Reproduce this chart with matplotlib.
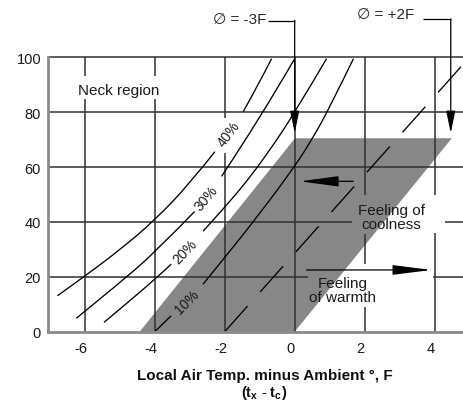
import matplotlib
matplotlib.use("Agg")
import matplotlib.pyplot as plt
from matplotlib.patches import Polygon, FancyArrowPatch, PathPatch
from matplotlib.path import Path
from matplotlib.transforms import ScaledTranslation

plt.rcParams['font.family'] = ['Liberation Sans', 'DejaVu Sans']
plt.rcParams['mathtext.fontset'] = 'custom'
plt.rcParams['mathtext.rm'] = 'Liberation Sans'
plt.rcParams['mathtext.bf'] = 'Liberation Sans:bold'
plt.rcParams['mathtext.it'] = 'Liberation Sans:italic'

# ---- data -------------------------------------------------------------
x_ticks = [-6, -4, -2, 0, 2, 4]
y_ticks = [0, 20, 40, 60, 80, 100]

# percent-dissatisfied curves, each split in a lower and upper piece
c40_lo_x = [-6.78, -6.0, -5.0, -4.0, -3.0, -2.28]
c40_lo_y = [13.1, 20.2, 29.8, 40.6, 54.0, 65.6]
c40_hi_x = [-1.47, -1.06, -0.66]
c40_hi_y = [80.2, 89.5, 99.5]

c30_lo_x = [-6.24, -5.0, -4.0, -2.86]
c30_lo_y = [4.9, 17.8, 28.8, 43.8]
c30_hi_x = [-2.09, -1.0, 0.0]
c30_hi_y = [56.6, 77.5, 99.5]

c20_lo_x = [-5.45, -5.0, -4.0, -3.53]
c20_lo_y = [3.4, 8.2, 19.0, 24.6]
c20_hi_x = [-2.62, -2.0, -1.42, -0.8, 0.0, 0.91]
c20_hi_y = [36.6, 45.3, 54.0, 64.5, 79.7, 99.5]

c10_lo_x = [-4.0, -3.53]
c10_lo_y = [0.0, 5.8]
c10_hi_x = [-2.62, -2.0, -1.0, 0.0, 0.5, 1.0, 1.68]
c10_hi_y = [17.3, 27.0, 43.0, 60.2, 70.2, 81.7, 99.5]

curve_labels = ['40%', '30%', '20%', '10%']
label_x = [-1.87, -2.53, -3.12, -3.08]
label_y = [72.3, 48.8, 29.4, 11.0]
label_rot = [53, 50, 46, 45]

# dashed reference line
dash_x = [-2.0, 4.81]
dash_y = [0.0, 97.4]

# shaded comfort band
band_x = [-4.43, 0.0, 4.49, 0.01]
band_y = [0.0, 0.0, 70.5, 70.5]

# offset markers
phi_labels = ['\u2205 = -3F', '\u2205 = +2F']
phi_x = [0.0, 4.46]

# ---- figure -----------------------------------------------------------
fig = plt.figure(figsize=(4.63, 4.02), dpi=100)
ax = fig.add_axes([48 / 463, (402 - 332.7) / 402, (463 - 48) / 463, (332.7 - 58.3) / 402])
ax.set_xlim(-7.05, 4.81)
ax.set_ylim(0, 100)

grid_c = '#303030'
grid_lw = 1.1

# shaded band
ax.add_patch(Polygon(list(zip(band_x, band_y)), closed=True, facecolor='#878787',
                     edgecolor='none', zorder=1))

# grid lines, broken where text sits
v_gaps = {-6: [(84.7, 93.2)], -4: [(84.7, 93.2)], -2: [(65.0, 78.0)],
          0: [], 2: [(9.1, 24.7), (35.6, 50.0)], 4: [(36.0, 50.0)]}
h_gaps = {20: [(0.37, 3.95)], 40: [(1.63, 4.3)], 60: [], 80: [], 100: []}


def pieces(lo, hi, gaps):
    out, start = [], lo
    for a, b in sorted(gaps):
        out.append((start, a))
        start = b
    out.append((start, hi))
    return out


for xv in x_ticks:
    for a, b in pieces(0, 100, v_gaps[xv]):
        ax.plot([xv, xv], [a, b], color=grid_c, lw=grid_lw, zorder=2,
                solid_capstyle='butt', clip_on=False)
for yv in y_ticks[1:]:
    for a, b in pieces(-7.05, 4.81, h_gaps[yv]):
        ax.plot([a, b], [yv, yv], color=grid_c, lw=grid_lw, zorder=2,
                solid_capstyle='butt', clip_on=False)


def smooth_curve(xs, ys):
    """Quadratic-Bezier path through the end points, smoothed at interior points."""
    pts = list(zip(xs, ys))
    if len(pts) < 3:
        return Path(pts)
    verts = [pts[0]]
    codes = [Path.MOVETO]
    n = len(pts)
    for i in range(1, n - 1):
        if i < n - 2:
            nxt = ((pts[i][0] + pts[i + 1][0]) / 2, (pts[i][1] + pts[i + 1][1]) / 2)
        else:
            nxt = pts[-1]
        verts += [pts[i], nxt]
        codes += [Path.CURVE3, Path.CURVE3]
    return Path(verts, codes)


# curves
for xs, ys in [(c40_lo_x, c40_lo_y), (c40_hi_x, c40_hi_y),
               (c30_lo_x, c30_lo_y), (c30_hi_x, c30_hi_y),
               (c20_lo_x, c20_lo_y), (c20_hi_x, c20_hi_y),
               (c10_lo_x, c10_lo_y), (c10_hi_x, c10_hi_y)]:
    ax.add_patch(PathPatch(smooth_curve(xs, ys), fill=False, edgecolor='black',
                           lw=0.95, zorder=3, capstyle='butt'))

for t, lx, ly, r in zip(curve_labels, label_x, label_y, label_rot):
    ax.text(lx, ly, t, rotation=r, rotation_mode='anchor', ha='center', va='center',
            fontsize=10, color='#1a1a1a', zorder=5)

# dashed line
ax.plot(dash_x, dash_y, color='black', lw=0.95, dashes=(26, 14.5), zorder=3)

# region notes
ax.text(-5.04, 88.2, 'Neck region', ha='center', va='center', fontsize=11, color='#1a1a1a')
ax.text(2.77, 41.8, 'Feeling of\ncoolness', ha='center', va='center', fontsize=11,
        color='#1a1a1a', linespacing=1.0, zorder=5)
ax.text(1.37, 15.1, 'Feeling\nof warmth', ha='center', va='center', fontsize=11,
        color='#1a1a1a', linespacing=1.0, zorder=5)

# horizontal arrows
ax.add_patch(FancyArrowPatch((1.67, 54.8), (0.15, 54.8),
                             arrowstyle='-|>,head_length=24,head_width=3.2',
                             mutation_scale=1, shrinkA=0, shrinkB=0,
                             color='black', lw=0.9, zorder=4))
ax.add_patch(FancyArrowPatch((0.34, 22.5), (3.91, 22.5),
                             arrowstyle='-|>,head_length=24,head_width=3.0',
                             mutation_scale=1, shrinkA=0, shrinkB=0,
                             color='black', lw=0.9, zorder=4))

# offset markers with leader lines
txt_x = [-1.58, 2.61]
txt_y = [114.1, 115.6]
lead_y = [113.4, 114.0]
lead_x0 = [-0.75, 3.66]
for lab, px, tx, ty, ly, lx0 in zip(phi_labels, phi_x, txt_x, txt_y, lead_y, lead_x0):
    ax.text(tx, ty, lab, ha='center', va='center', fontsize=11, color='#2a2a2a',
            clip_on=False)
    ax.plot([lx0, px], [ly, ly], color='black', lw=0.9, clip_on=False,
            solid_capstyle='butt')
    ax.add_patch(FancyArrowPatch((px, ly), (px, 72.4),
                                 arrowstyle='-|>,head_length=13.5,head_width=2.8',
                                 mutation_scale=1, shrinkA=0, shrinkB=0,
                                 color='black', lw=0.9, zorder=4, clip_on=False))

# axes styling
for s in ['top', 'right']:
    ax.spines[s].set_visible(False)
for s in ['left', 'bottom']:
    ax.spines[s].set_color('#8a8a8a')
    ax.spines[s].set_linewidth(2.0)
    ax.spines[s].set_zorder(3)

ax.set_xticks(x_ticks)
ax.set_xticklabels([str(v) for v in x_ticks])
ax.set_yticks(y_ticks)
ax.set_yticklabels([str(v) for v in y_ticks])
ax.tick_params(axis='both', length=0, labelsize=10.5, colors='#1a1a1a')
ax.tick_params(axis='x', pad=7)
ax.tick_params(axis='y', pad=5)
shift = ScaledTranslation(-4 / 100, 0, fig.dpi_scale_trans)
for lbl in ax.get_xticklabels():
    lbl.set_transform(lbl.get_transform() + shift)

fig.text(265 / 463, (402 - 376.5) / 402, 'Local Air Temp. minus Ambient °, F',
         ha='center', va='center', fontsize=11, fontweight='bold', color='#111111')
fig.text(264 / 463, (402 - 393.5) / 402, r'$\mathbf{(t_x\ \text{-}\ t_c)}$',
         ha='center', va='center', fontsize=10.5, color='#111111')

fig.savefig('out.png', dpi=100)
